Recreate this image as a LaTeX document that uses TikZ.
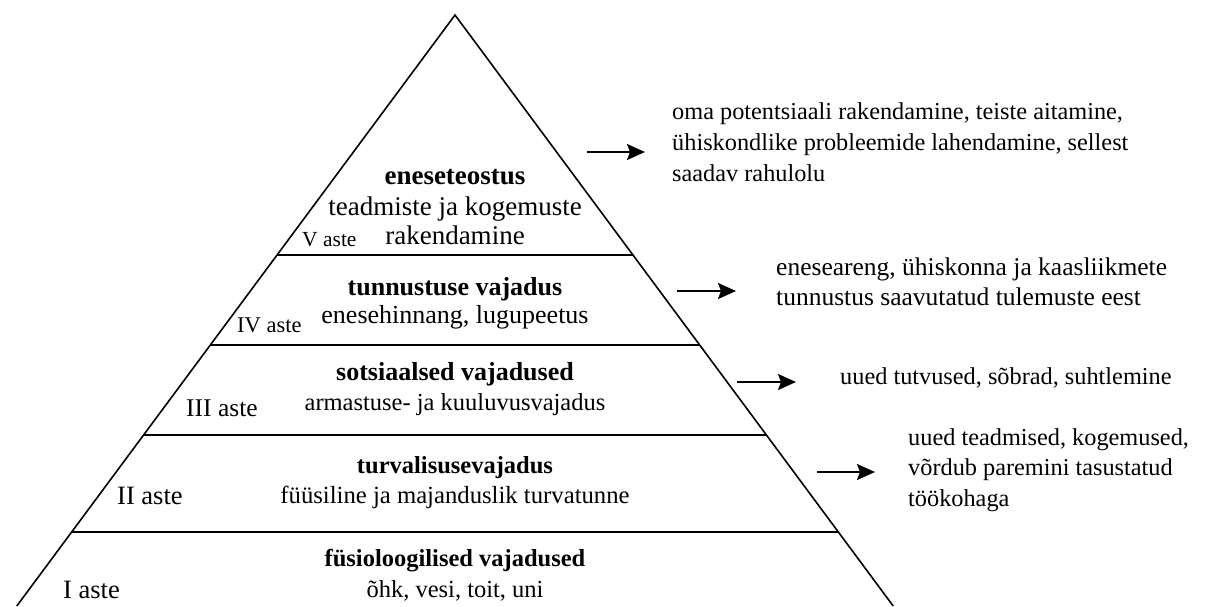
\documentclass[tikz,border=0pt]{standalone}
\usepackage{fontspec}
\setmainfont{Liberation Serif}
\usetikzlibrary{arrows.meta}
\newcommand{\fs}[1]{\fontsize{#1}{#1}\selectfont}
\begin{document}
\begin{tikzpicture}[x=1pt,y=-1pt,
  edge/.style={line width=1.6pt,black},
  level/.style={line width=1.8pt,black},
  arr/.style={line width=2pt,-{Stealth[length=18pt,width=16pt,inset=3pt]}},
  title/.style={inner sep=0pt,anchor=base,font=\bfseries},
  desc/.style={inner sep=0pt,anchor=base},
  lvl/.style={inner sep=0pt,anchor=base west},
  side/.style={inner sep=0pt,anchor=north west,align=left}]
\useasboundingbox (0,0) rectangle (1230,606);
% pyramid corners
\coordinate (apex) at (455,15);
\coordinate (bl) at (16.8,606);
\coordinate (br) at (893.2,606);
\coordinate (l1) at (277,255);   \coordinate (r1) at (633,255);
\coordinate (l2) at (210.3,345); \coordinate (r2) at (699.7,345);
\coordinate (l3) at (143.6,435); \coordinate (r3) at (766.4,435);
\coordinate (l4) at (71.6,532);  \coordinate (r4) at (838.4,532);
\draw[edge,line join=miter] (bl) -- (apex) -- (br);
\draw[level] (l1) -- (r1);
\draw[level] (l2) -- (r2);
\draw[level] (l3) -- (r3);
\draw[level] (l4) -- (r4);
% level V
\node[title] (t5) at (455,184) {\fs{27}\bfseries eneseteostus};
\node[desc] (d5a) at (455,215) {\fs{27}teadmiste ja kogemuste};
\node[desc] (d5b) at (455,244) {\fs{27}rakendamine};
\node[lvl] (a5) at (302,246) {\fs{21.5}V aste};
% level IV
\node[title] (t4) at (455,295) {\fs{26}\bfseries tunnustuse vajadus};
\node[desc] (d4) at (455,323) {\fs{26}enesehinnang, lugupeetus};
\node[lvl] (a4) at (237,332) {\fs{22.5}IV aste};
% level III
\node[title] (t3) at (455,380) {\fs{26}\bfseries sotsiaalsed vajadused};
\node[desc] (d3) at (455,410) {\fs{24.5}armastuse- ja kuuluvusvajadus};
\node[lvl] (a3) at (186,416) {\fs{25.5}III aste};
% level II
\node[title] (t2) at (455,473) {\fs{24.5}\bfseries turvalisusevajadus};
\node[desc] (d2) at (455,503) {\fs{24.7}füüsiline ja majanduslik turvatunne};
\node[lvl] (a2) at (117,504) {\fs{26.5}II aste};
% level I
\node[title] (t1) at (455,566) {\fs{24.5}\bfseries füsioloogilised vajadused};
\node[desc] (d1) at (455,597) {\fs{24.5}õhk, vesi, toit, uni};
\node[lvl] (a1) at (63,598) {\fs{26.5}I aste};
% side texts
\node[side,font=\fontsize{24.3}{31}\selectfont] (s5) at (672,102) {oma potentsiaali rakendamine, teiste aitamine,\\ühiskondlike probleemide lahendamine, sellest\\saadav rahulolu};
\node[side,font=\fontsize{25.5}{29.5}\selectfont] (s4) at (776,258) {eneseareng, ühiskonna ja kaasliikmete\\tunnustus saavutatud tulemuste eest};
\node[side,font=\fontsize{24.3}{30}\selectfont] (s3) at (840,367) {uued tutvused, sõbrad, suhtlemine};
\node[side,font=\fontsize{24.3}{30.5}\selectfont] (s2) at (908,428) {uued teadmised, kogemused,\\võrdub paremini tasustatud\\töökohaga};
% arrows
\coordinate (a5s) at (587,152); \coordinate (a5e) at (645,152);
\coordinate (a4s) at (677,291); \coordinate (a4e) at (736,291);
\coordinate (a3s) at (737,382); \coordinate (a3e) at (796,382);
\coordinate (a2s) at (817,472); \coordinate (a2e) at (875,472);
\draw[arr] (a5s) -- (a5e);
\draw[arr] (a4s) -- (a4e);
\draw[arr] (a3s) -- (a3e);
\draw[arr] (a2s) -- (a2e);
\end{tikzpicture}
\end{document}
